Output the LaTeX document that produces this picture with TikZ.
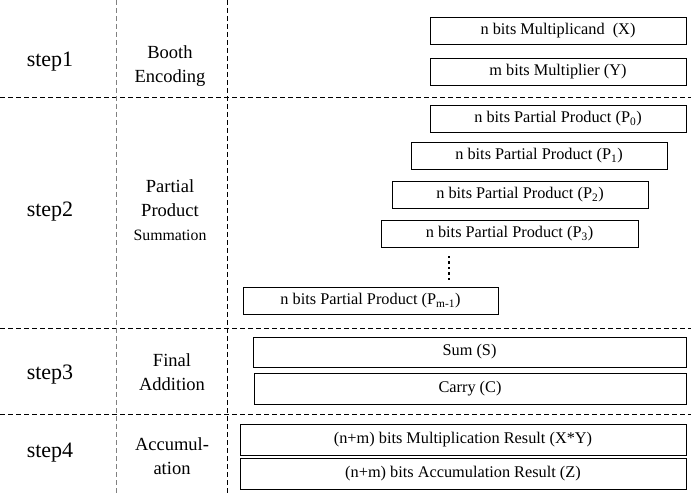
\documentclass[tikz,border=0pt]{standalone}
\usepackage{fontspec}
\setmainfont{Liberation Serif}
\begin{document}
\begin{tikzpicture}[x=1pt,y=-1pt,
  bx/.style={draw,thick,minimum height=27pt,inner sep=0pt,font=\fontsize{16.3}{17}\selectfont},
  lbl/.style={font=\fontsize{22}{23}\selectfont},
  sl/.style={align=center,font=\fontsize{18.5}{24}\selectfont},
  dl/.style={dashed,thick,dash pattern=on 5pt off 3pt}]
\useasboundingbox (0,0) rectangle (691,494);
\draw[dl] (0,97) -- (691,97);
\draw[dl] (0,328) -- (691,328);
\draw[dl] (0,414) -- (691,414);
\draw[dl,gray] (116,0) -- (116,494);
\draw[dl] (227,0) -- (227,494);
\node[bx,minimum width=256pt] (X) at (558,31) {n bits Multiplicand\ \ (X)};
\node[bx,minimum width=256pt] (Y) at (558,71.5) {m bits Multiplier (Y)};
\node[bx,minimum width=256pt] (P0) at (558,118.5) {n bits Partial Product (P\textsubscript{0})};
\node[bx,minimum width=256pt] (P1) at (539,156) {n bits Partial Product (P\textsubscript{1})};
\node[bx,minimum width=256pt] (P2) at (520,195) {n bits Partial Product (P\textsubscript{2})};
\node[bx,minimum width=257pt] (P3) at (509.5,233.5) {n bits Partial Product (P\textsubscript{3})};
\node[bx,minimum width=255pt] (Pm) at (370.5,301) {n bits Partial Product (P\textsubscript{m-1})};
\draw[line width=2.5pt,dash pattern=on 2.5pt off 3pt] (449,256) -- (449,282);
\node[bx,minimum width=433pt,minimum height=30pt] (S) at (469.5,352) {Sum (S)};
\node[bx,minimum width=432pt,minimum height=31pt] (C) at (470,388.5) {Carry (C)};
\node[bx,minimum width=446pt,minimum height=31pt] (M) at (463,439.5) {(n+m) bits Multiplication Result (X*Y)};
\node[bx,minimum width=446pt,minimum height=31pt] (A) at (463,473.5) {(n+m) bits Accumulation Result (Z)};
\node[lbl] (s1) at (50,62) {step1};
\node[lbl] (s2) at (50,212) {step2};
\node[lbl] (s3) at (50,375) {step3};
\node[lbl] (s4) at (50,453) {step4};
\node[sl] (t1) at (170,66) {Booth\\Encoding};
\node[sl] (t2) at (170,210) {Partial\\Product\\{\fontsize{15.8}{16}\selectfont Summation}};
\node[sl] (t3) at (172,372) {Final\\Addition};
\node[sl] (t4) at (172,456) {Accumul-\\ation};
\end{tikzpicture}
\end{document}
